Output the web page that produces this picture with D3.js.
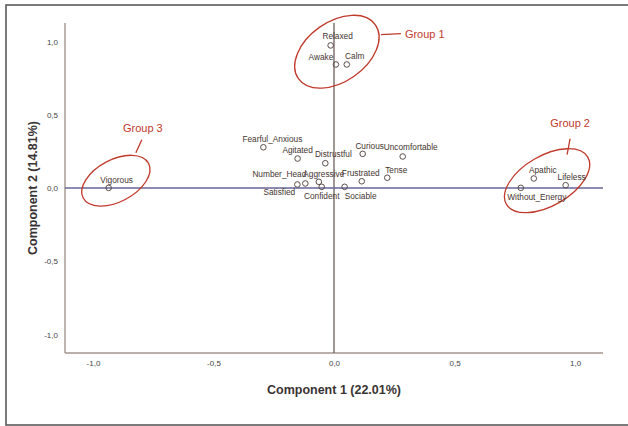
<!DOCTYPE html>
<html>
<head>
<meta charset="utf-8">
<script src="https://cdn.jsdelivr.net/npm/d3@7/dist/d3.min.js"></script>
<style>
  html, body { margin: 0; padding: 0; background: #fff; }
  svg { display: block; }
  text { font-family: "Liberation Sans", Arial, sans-serif; }
</style>
</head>
<body>
<svg id="chart" width="628" height="426"></svg>
<script>
// ---- data ----
const variables = ["Relaxed","Awake","Calm","Fearful_Anxious","Agitated","Distrustful","Curious",
  "Uncomfortable","Tense","Frustrated","Number_Head","Satisfied","Aggressive","Confident",
  "Sociable","Vigorous","Apathic","Lifeless","Without_Energy"];
const component1 = [-0.014, 0.008, 0.053, -0.293, -0.151, -0.036, 0.119,
  0.285, 0.221, 0.115, -0.152, -0.119, -0.063, -0.051,
  0.044, -0.935, 0.829, 0.961, 0.775];
const component2 = [0.973, 0.843, 0.843, 0.278, 0.201, 0.169, 0.233,
  0.215, 0.070, 0.046, 0.024, 0.031, 0.042, 0.008,
  0.008, 0.001, 0.065, 0.019, 0.001];
const xTicks = [-1.0, -0.5, 0.0, 0.5, 1.0];
const yTicks = [-1.0, -0.5, 0.0, 0.5, 1.0];
const xTitle = "Component 1 (22.01%)";
const yTitle = "Component 2 (14.81%)";
const groupNames = ["Group 1", "Group 2", "Group 3"];
// group ellipse centres (in data units)
const groupCx = [0.012, 0.884, -0.905];
const groupCy = [0.93, 0.05, 0.05];

// ---- layout ----
const svg = d3.select("#chart");
const mLeft = 65, mRight = 603, mTop = 23, mBottom = 353;
const x = d3.scaleLinear().domain([-1.116, 1.116]).range([mLeft, mRight]);
const y = d3.scaleLinear().domain([-1.126, 1.126]).range([mBottom, mTop]);
const fmt = v => d3.format(".1f")(v).replace(".", ",").replace("−", "-");

// outer frame
svg.append("rect").attr("x", 6).attr("y", 5).attr("width", 640).attr("height", 420)
  .attr("fill", "none").attr("stroke", "#5a5a5a").attr("stroke-width", 1.6);

// axes
const axisColor = "#a3958f";
const xAxis = svg.append("g").attr("transform", `translate(0,${mBottom})`)
  .call(d3.axisBottom(x).tickValues(xTicks).tickSize(0).tickFormat(fmt));
xAxis.select(".domain").attr("stroke", axisColor).attr("stroke-width", 1.4).attr("d", `M${mLeft},0H${mRight}`);
xAxis.selectAll("text").attr("dy", 0).attr("y", 13).attr("font-size", 8).attr("fill", "#444");

const yAxis = svg.append("g").attr("transform", `translate(${mLeft},0)`)
  .call(d3.axisLeft(y).tickValues(yTicks).tickSize(0).tickFormat(fmt));
yAxis.select(".domain").attr("stroke", axisColor).attr("stroke-width", 1.4).attr("d", `M0,${mTop}V${mBottom}`);
yAxis.selectAll("text").attr("x", -7).attr("dy", "0.32em").attr("font-size", 8).attr("fill", "#444");

// zero reference lines
svg.append("line").attr("x1", x(0)).attr("x2", x(0)).attr("y1", mTop).attr("y2", mBottom)
  .attr("stroke", "#6e5f5a").attr("stroke-width", 1.3);
svg.append("line").attr("x1", mLeft).attr("x2", mRight).attr("y1", y(0)).attr("y2", y(0))
  .attr("stroke", "#66669a").attr("stroke-width", 1.3);

// axis titles
svg.append("text").attr("x", (mLeft + mRight) / 2).attr("y", 394).attr("text-anchor", "middle")
  .attr("font-size", 12.5).attr("font-weight", "bold").attr("fill", "#3a3333").text(xTitle);
svg.append("text").attr("transform", `translate(37,${(mTop + mBottom) / 2}) rotate(-90)`)
  .attr("text-anchor", "middle").attr("font-size", 12.5).attr("font-weight", "bold")
  .attr("fill", "#3a3333").text(yTitle);

// group ellipses
const red = "#c0392b";
const ellipseShape = [ {rx: 47, ry: 30, rot: -35}, {rx: 47, ry: 25, rot: -30}, {rx: 37, ry: 21, rot: -28} ];
const calloutLine = [ [[44, -17], [64, -18]], [[20, -26], [23, -42]], [[20, -28], [26, -41]] ];
const calloutText = [ [68, -14, "start"], [23, -54, "middle"], [27, -49, "middle"] ];
groupNames.forEach((gName, i) => {
  const cx = x(groupCx[i]), cy = y(groupCy[i]);
  const s = ellipseShape[i];
  svg.append("ellipse").attr("cx", 0).attr("cy", 0).attr("rx", s.rx).attr("ry", s.ry)
    .attr("transform", `translate(${cx},${cy}) rotate(${s.rot})`)
    .attr("fill", "none").attr("stroke", red).attr("stroke-width", 1.3);
  const l = calloutLine[i];
  svg.append("line").attr("x1", cx + l[0][0]).attr("y1", cy + l[0][1])
    .attr("x2", cx + l[1][0]).attr("y2", cy + l[1][1]).attr("stroke", red).attr("stroke-width", 1.3);
  const t = calloutText[i];
  svg.append("text").attr("x", cx + t[0]).attr("y", cy + t[1]).attr("text-anchor", t[2])
    .attr("font-size", 11).attr("fill", red).text(gName);
});

// points and labels
const labelOffset = {
  Relaxed: [7, -9], Awake: [-15, -7], Calm: [8, -8], Fearful_Anxious: [9, -8],
  Agitated: [0, -8], Distrustful: [8, -9], Curious: [7, -8], Uncomfortable: [8, -9],
  Tense: [9, -8], Frustrated: [-1, -8], Number_Head: [-18, -10], Satisfied: [-26, 9],
  Aggressive: [5, -8], Confident: [0, 9], Sociable: [16, 9], Vigorous: [8, -8],
  Apathic: [9, -8], Lifeless: [6, -8], Without_Energy: [16, 9]
};
const pts = variables.map((v, i) => ({name: v, c1: component1[i], c2: component2[i]}));
const pg = svg.append("g");
pg.selectAll("circle").data(pts).join("circle")
  .attr("cx", d => x(d.c1)).attr("cy", d => y(d.c2)).attr("r", 2.8)
  .attr("fill", "none").attr("stroke", "#5a4d48").attr("stroke-width", 1);
pg.selectAll("text").data(pts).join("text")
  .attr("x", d => x(d.c1) + labelOffset[d.name][0])
  .attr("y", d => y(d.c2) + labelOffset[d.name][1])
  .attr("dy", "0.35em").attr("text-anchor", "middle")
  .attr("font-size", 8.3).attr("fill", "#45352f").text(d => d.name);
</script>
</body>
</html>
